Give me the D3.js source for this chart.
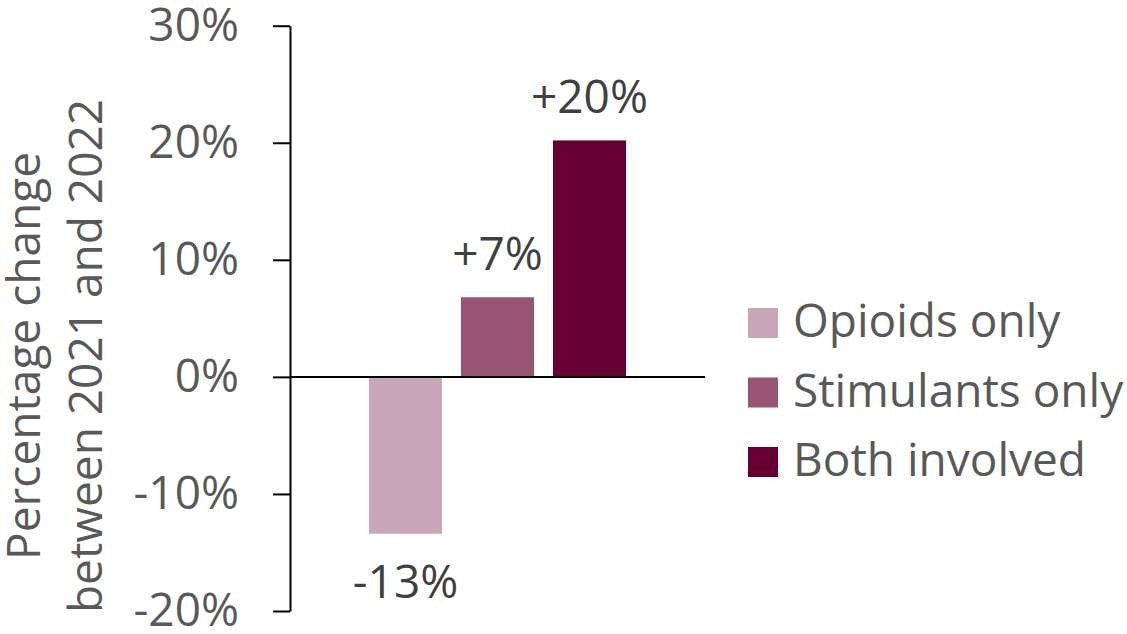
<!DOCTYPE html>
<html>
<head>
<meta charset="utf-8">
<script src="https://cdn.jsdelivr.net/npm/d3@7"></script>
<style>
body { margin: 0; background: #fff; }
text { font-family: "Open Sans", sans-serif; }
</style>
</head>
<body>
<svg width="1127" height="634"></svg>
<script>
const categories = ["Opioids only", "Stimulants only", "Both involved"];
const values = [-13.4, 6.8, 20.2];
const valueLabels = ["-13%", "+7%", "+20%"];
const colors = ["#C9A7B9", "#985475", "#660033"];
const yTicks = [-20, -10, 0, 10, 20, 30];
const titleLines = ["Percentage change", "between 2021 and 2022"];

const svg = d3.select("svg");
const xLeft = 290, xRight = 705;
const fontSize = 46;

const y = d3.scaleLinear().domain([-20, 30]).range([611, 25.7]);
const x = d3.scaleBand().domain(categories)
    .range([xLeft, xRight])
    .paddingInner(0.2065)
    .paddingOuter(0.8587);

// bars
svg.selectAll(".bar")
    .data(categories)
    .enter().append("rect")
    .attr("class", "bar")
    .attr("x", d => x(d))
    .attr("width", x.bandwidth())
    .attr("y", (d, i) => y(Math.max(0, values[i])))
    .attr("height", (d, i) => Math.abs(y(values[i]) - y(0)))
    .attr("fill", (d, i) => colors[i]);

// y axis
const yAxis = svg.append("g")
    .attr("transform", `translate(${xLeft},0)`)
    .call(d3.axisLeft(y)
        .tickValues(yTicks)
        .tickSize(17)
        .tickSizeOuter(0)
        .tickPadding(34)
        .tickFormat(d => d + "%"));
yAxis.select(".domain").attr("stroke", "#000").attr("stroke-width", 2);
yAxis.selectAll(".tick line").attr("stroke", "#000").attr("stroke-width", 2);
yAxis.selectAll(".tick text")
    .attr("font-size", fontSize)
    .attr("font-family", "Open Sans")
    .attr("fill", "#595959");

// zero line
svg.append("line")
    .attr("x1", xLeft).attr("x2", xRight)
    .attr("y1", y(0)).attr("y2", y(0))
    .attr("stroke", "#000").attr("stroke-width", 2);

// value labels
svg.selectAll(".vlabel")
    .data(categories)
    .enter().append("text")
    .attr("class", "vlabel")
    .attr("x", d => x(d) + x.bandwidth() / 2)
    .attr("y", (d, i) => values[i] >= 0 ? y(values[i]) - 27 : y(values[i]) + 64)
    .attr("text-anchor", "middle")
    .attr("font-size", fontSize)
    .attr("fill", "#404040")
    .text((d, i) => valueLabels[i]);

// legend
const legend = svg.selectAll(".legend")
    .data(categories)
    .enter().append("g")
    .attr("class", "legend")
    .attr("transform", (d, i) => `translate(748,${308 + i * 69.5})`);
legend.append("rect")
    .attr("width", 30).attr("height", 30)
    .attr("fill", (d, i) => colors[i]);
legend.append("text")
    .attr("x", 45)
    .attr("y", 29)
    .attr("font-size", fontSize)
    .attr("fill", "#595959")
    .text(d => d);

// y title
svg.selectAll(".ytitle")
    .data(titleLines)
    .enter().append("text")
    .attr("class", "ytitle")
    .attr("transform", (d, i) => `translate(${40 + i * 62},356) rotate(-90)`)
    .attr("text-anchor", "middle")
    .attr("font-size", fontSize)
    .attr("fill", "#595959")
    .text(d => d);
</script>
</body>
</html>
